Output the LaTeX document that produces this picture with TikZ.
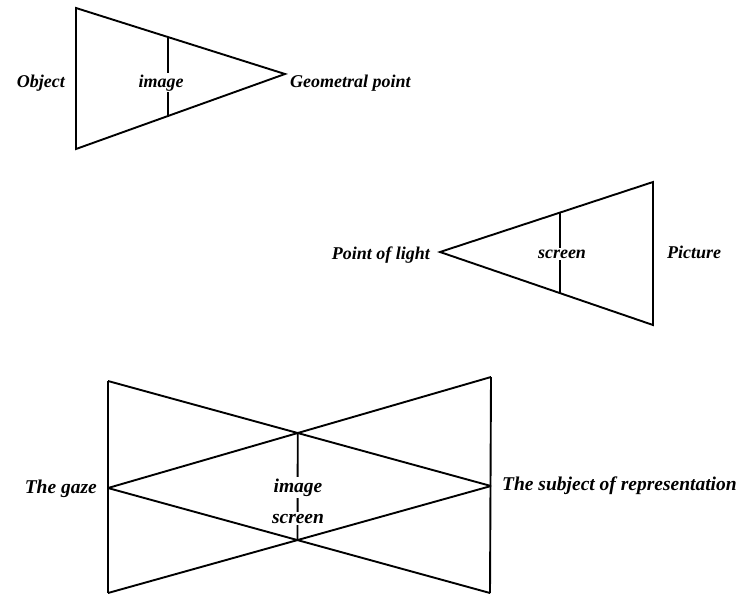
\documentclass[tikz,border=0pt]{standalone}
\usepackage{fontspec}
\setmainfont{Liberation Serif}
\begin{document}
\begin{tikzpicture}[x=1pt,y=-1pt,
  stroke/.style={line width=1.9pt, line join=miter},
  lbl/.style={font=\fontsize{18}{20}\selectfont\bfseries\itshape, inner sep=0pt},
  lblb/.style={font=\fontsize{19.5}{22}\selectfont\bfseries\itshape, inner sep=0pt},
  cut/.style={fill=white, inner sep=1.5pt}]
\useasboundingbox (0,0) rectangle (738,598);

% --- object / image / geometral point
\coordinate (oT) at (76,8);
\coordinate (oB) at (76,149);
\coordinate (gp) at (285,74);
\coordinate (iT) at (168,38);
\coordinate (iB) at (168,117);
\draw[stroke] (oT) -- (gp) -- (oB) -- cycle;
\draw[stroke] (iT) -- (iB);
\node[lbl, anchor=base east] (obj) at (65,87) {Object};
\node[lbl, cut, anchor=base] (img1) at (161,87) {image};
\node[lbl, anchor=base west] (geo) at (290,87) {Geometral point};

% --- point of light / screen / picture
\coordinate (pl) at (440,252);
\coordinate (pT) at (653,182);
\coordinate (pB) at (653,325);
\coordinate (sT) at (560,212);
\coordinate (sB) at (560,293);
\draw[stroke] (pT) -- (pl) -- (pB) -- cycle;
\draw[stroke] (sT) -- (sB);
\node[lbl, anchor=base east] (pol) at (430,259) {Point of light};
\node[lbl, cut, anchor=base] (scr1) at (562,258) {screen};
\node[lbl, anchor=base west] (pic) at (667,258) {Picture};

% --- the gaze / image-screen / subject of representation
\coordinate (LT) at (108,381);
\coordinate (LB) at (108,593);
\coordinate (LM) at (108,488);
\coordinate (RT) at (491,377);
\coordinate (RB) at (490,593);
\coordinate (RM) at (491,486);
\draw[stroke] (LT) -- (LB);
\draw[stroke] (RT) -- (RB);
\draw[stroke] (LT) -- (RM);
\draw[stroke] (LB) -- (RM);
\draw[stroke] (LM) -- (RT);
\draw[stroke] (LM) -- (RB);
\coordinate (cxT) at (intersection of LT--RM and LM--RT);
\coordinate (cxB) at (intersection of LB--RM and LM--RB);
\draw[stroke] (cxT) -- (cxB);
\node[lblb, anchor=base east] (gaze) at (97,493) {The gaze};
\node[lblb, anchor=base west] (subj) at (502,490) {The subject of representation};
\node[lblb, cut, anchor=base] (img2) at (298,492) {image};
\node[lblb, cut, anchor=base] (scr2) at (298,523) {screen};
\end{tikzpicture}
\end{document}
